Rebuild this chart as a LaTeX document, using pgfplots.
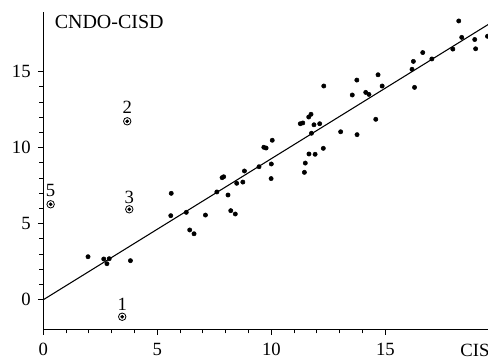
\documentclass[border=0pt]{standalone}
\usepackage{pgfplots}
\pgfplotsset{compat=1.18}
\usepackage{fontspec}
\setmainfont{Liberation Serif}
\pgfplotstableread{
x y
1.96 2.83
2.65 2.68
2.89 2.70
2.79 2.37
3.82 2.57
5.59 5.53
5.61 7.00
6.27 5.75
6.42 4.59
6.61 4.34
7.11 5.57
7.61 7.09
7.84 8.03
7.91 8.09
8.10 6.89
8.22 5.86
8.42 5.64
8.48 7.66
8.75 7.74
8.82 8.47
9.46 8.75
9.67 10.03
9.77 9.98
10.04 10.49
10.00 8.93
9.99 7.97
11.27 11.58
11.38 11.63
11.64 12.02
11.74 12.20
11.87 11.51
12.12 11.58
11.76 10.95
12.30 14.06
12.28 9.96
11.65 9.59
11.92 9.57
11.49 8.99
11.45 8.38
13.04 11.05
13.76 10.86
13.55 13.47
13.75 14.45
14.14 13.64
14.28 13.51
14.58 11.87
14.68 14.80
14.86 14.06
16.17 15.16
16.23 15.68
16.28 13.97
16.64 16.26
17.04 15.84
17.96 16.49
18.22 18.34
18.35 17.26
18.92 17.12
18.96 16.51
19.48 17.33
}\maindata
\pgfplotstableread{
x y
3.46 -1.12
3.68 11.74
3.77 5.95
0.32 6.28
}\circdata
\begin{document}
\begin{tikzpicture}
\begin{axis}[
  anchor=origin, at={(0,0)},
  x=17.1pt, y=11.4pt,
  xmin=0, xmax=20, ymin=-1.95, ymax=18.9,
  axis x line*=bottom, axis y line*=left,
  axis line style={line width=0.8pt},
  xtick={0,5,10,15}, ytick={0,5,10,15},
  minor x tick num=4, minor y tick num=4,
  tick align=outside,
  major tick length=4pt, minor tick length=3pt,
  every tick/.style={black, line width=0.8pt},
  tick label style={font=\fontsize{14}{16}\selectfont},
  /pgf/number format/assume math mode=true,
  xticklabel style={yshift=-3pt},
  yticklabel style={xshift=-2pt},
  clip=false,
]
\addplot[black, line width=0.8pt] coordinates {(0,0) (19.6,18.19)};
\addplot[only marks, mark=*, mark size=1.6pt, black] table[x=x,y=y] {\maindata};
\addplot[only marks, mark=o, mark size=2.8pt, black, mark options={line width=0.6pt}] table[x=x,y=y] {\circdata};
\addplot[only marks, mark=*, mark size=1.2pt, black] table[x=x,y=y] {\circdata};
\node[anchor=base, font=\fontsize{14}{16}\selectfont] at (axis cs:3.46,-0.68) {1};
\node[anchor=base, font=\fontsize{14}{16}\selectfont] at (axis cs:3.68,12.22) {2};
\node[anchor=base, font=\fontsize{14}{16}\selectfont] at (axis cs:3.77,6.34) {3};
\node[anchor=base, font=\fontsize{14}{16}\selectfont] at (axis cs:0.32,6.82) {5};
\node[anchor=west, font=\fontsize{15}{17}\selectfont, inner sep=0pt] at (axis cs:0.49,18.3) {CNDO-CISD};
\node[anchor=base west, font=\fontsize{14}{16}\selectfont, inner sep=0pt] at (axis cs:18.28,-3.75) {CIS};
\end{axis}
\pgfresetboundingbox
\useasboundingbox (-32.5pt,-44.5pt) rectangle (333.5pt,224.8pt);
\end{tikzpicture}
\end{document}
